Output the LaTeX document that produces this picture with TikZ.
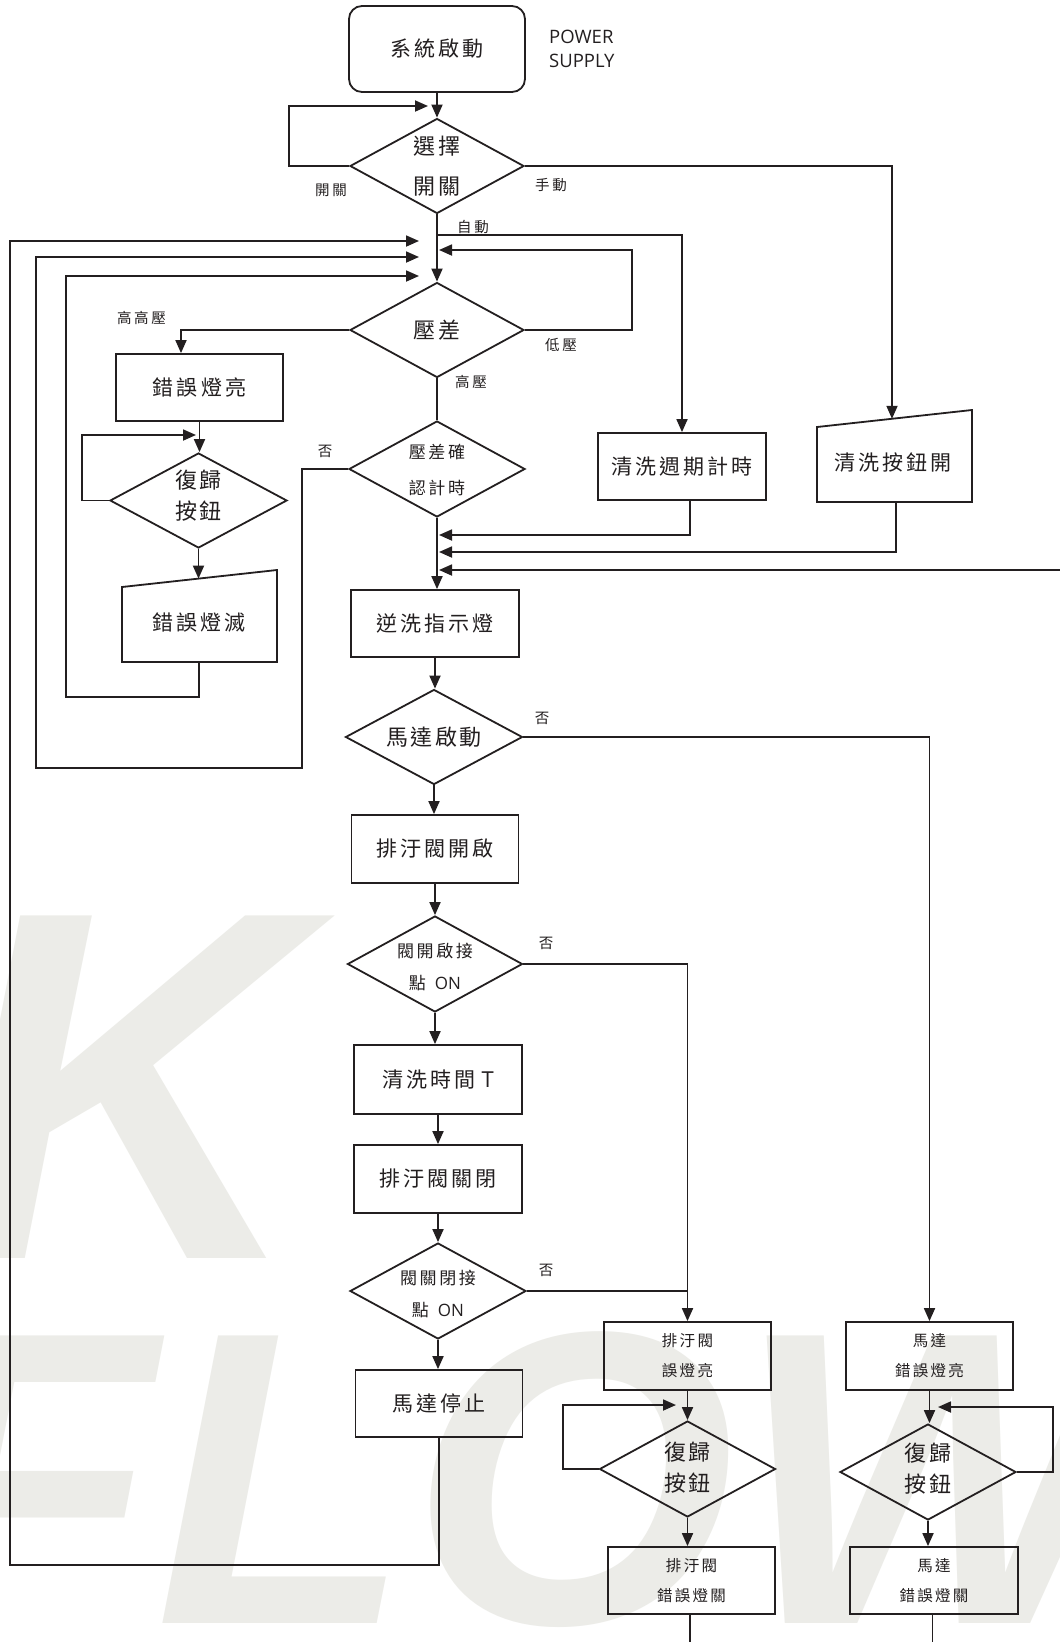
\documentclass[tikz,border=0pt]{standalone}
\usepackage{fontspec}
\usetikzlibrary{shapes.geometric,arrows.meta}
\setmainfont{Open Sans}
\newfontfamily\cjk{Noto Sans CJK TC}
\newfontfamily\cjkA{Noto Sans CJK TC}[LetterSpace=15]
\newfontfamily\cjkB{Noto Sans CJK TC}[LetterSpace=12]
\newfontfamily\cjkC{Noto Sans CJK TC}[LetterSpace=18]
\newfontfamily\wmfont{Liberation Sans}
\definecolor{lc}{RGB}{35,31,32}
\definecolor{wmc}{RGB}{236,236,232}
\begin{document}
\begin{tikzpicture}[x=1pt,y=-1pt,
  ln/.style={draw=lc,line width=1.8pt},
  arr/.style={ln,-{Triangle[length=13pt,width=11pt]}},
  bx/.style={draw=lc,line width=1.8pt,rectangle,inner sep=0pt,minimum width=167pt,minimum height=68pt,align=center},
  dia/.style={draw=lc,line width=1.8pt,diamond,inner sep=0pt,minimum width=176pt,minimum height=96pt},
  tbig/.style={text=lc,inner sep=0pt,font=\cjkA\fontsize{21}{25}\selectfont},
  tdia/.style={text=lc,inner sep=0pt,align=center,font=\cjkB\fontsize{22}{31}\selectfont},
  tmid/.style={text=lc,inner sep=0pt,align=center,font=\cjkA\fontsize{17}{32}\selectfont},
  tsm/.style={text=lc,inner sep=0pt,align=center,font=\cjkA\fontsize{15.5}{30}\selectfont},
  tlab/.style={text=lc,inner sep=0pt,font=\cjkC\fontsize{14.5}{16}\selectfont},
  wm/.style={anchor=base west,inner sep=0pt,text=wmc}
]
\useasboundingbox (0,0) rectangle (1060,1642);
\fill[white] (0,0) rectangle (1060,1642);
\begin{scope}
\clip (0,0) rectangle (1060,1642);
\node[wm,font=\wmfont\bfseries\itshape\fontsize{498}{498}\selectfont] (wmK) at (-55,1258) {K};
\node[wm,font=\wmfont\bfseries\itshape\fontsize{418}{418}\selectfont] (wmF) at (-100,1623) {FLOW};
\end{scope}

% ---- nodes ----
\node[bx,tbig,rounded corners=13pt,minimum width=176pt,minimum height=86pt] (start) at (437,49) {系統啟動};
\node[anchor=west,align=left,text=lc,inner sep=0pt,font=\fontsize{18.5}{24}\selectfont] (ps) at (549,48.5) {POWER\\SUPPLY};

\node[dia,minimum width=174pt,minimum height=95pt] (d1) at (437,166) {};
\node[tdia] (d1t) at (437,166) {選擇\\[9pt]開關};
\node[tlab] (l1) at (331,190) {開關};
\node[tlab] (l2) at (551,185) {手動};
\node[tlab] (l3) at (473,227) {自動};

\node[dia,minimum width=174pt,minimum height=95pt] (d2) at (437,330) {};
\node[tdia] (d2t) at (437,330) {壓差};
\node[tlab] (l4) at (141.5,318) {高高壓};
\node[tlab] (l5) at (561,345) {低壓};
\node[tlab] (l6) at (471,382) {高壓};

\node[bx,tbig,minimum height=67pt] (e1) at (199.5,387.5) {錯誤燈亮};
\node[dia,minimum width=177pt,minimum height=95pt] (d3) at (198.5,500.5) {};
\node[tdia] (d3t) at (198.5,495.5) {復歸\\按鈕};

\node[tlab] (l7) at (325,451) {否};
\node[dia] (d4) at (437,469) {};
\node[tmid] (d4t) at (437,470) {壓差確\\[4pt]認計時};

\node[bx,tbig,minimum width=168pt,minimum height=67pt] (b2) at (682,466.5) {清洗週期計時};
\draw[ln] (817,427) -- (972,410) -- (972,502) -- (817,502) -- cycle;
\node[tbig] (t2t) at (893,463) {清洗按鈕開};

\draw[ln] (122,587) -- (277,570) -- (277,662) -- (122,662) -- cycle;
\node[tbig] (t1t) at (199,622) {錯誤燈滅};

\node[bx,tbig,minimum width=168pt,minimum height=67pt] (b3) at (435,623.5) {逆洗指示燈};
\node[dia,minimum width=177pt,minimum height=95pt] (d5) at (434,737) {};
\node[tdia] (d5t) at (434,737) {馬達啟動};
\node[tlab] (l8) at (542,718) {否};

\node[bx,tbig] (b4) at (435,849) {排汙閥開啟};
\node[dia,minimum width=175pt] (d6) at (435,964) {};
\node[tmid] (d6t) at (435,967) {閥開啟接\\點\hspace{9pt}{\rmfamily ON}};
\node[tlab] (l9) at (546,943) {否};

\node[bx,tbig,minimum width=168pt,minimum height=69pt] (b5) at (438,1079.5) {清洗時間{\rmfamily\fontsize{22}{25}\selectfont\ T}};
\node[bx,tbig,minimum width=168pt] (b6) at (438,1179) {排汙閥關閉};
\node[dia] (d7) at (438,1291) {};
\node[tmid] (d7t) at (438,1294) {閥關閉接\\點\hspace{9pt}{\rmfamily ON}};
\node[tlab] (l10) at (546,1270) {否};
\node[bx,tbig,minimum height=67pt] (b7) at (439,1403.5) {馬達停止};

\node[bx,tsm] (b8) at (687.5,1356) {排汙閥\\誤燈亮};
\node[dia] (d8) at (687.5,1469) {};
\node[tdia] (d8t) at (687.5,1468) {復歸\\按鈕};
\node[bx,tsm,minimum height=67pt] (b9) at (691.5,1580.5) {排汙閥\\錯誤燈關};

\node[bx,tsm] (b10) at (929.5,1356) {馬達\\錯誤燈亮};
\node[dia] (d9) at (928,1472) {};
\node[tdia] (d9t) at (928,1469) {復歸\\按鈕};
\node[bx,tsm,minimum width=168pt,minimum height=67pt] (b11) at (934,1580.5) {馬達\\錯誤燈關};

% ---- named coordinates ----
\coordinate (j0) at (428,106);
\coordinate (t2top) at (892,418.8);
\coordinate (t2bot) at (896,502);
\coordinate (t1top) at (199,578.6);
\coordinate (t1bot) at (199,662);
\coordinate (k1) at (437,235);
\coordinate (j1) at (419,241);
\coordinate (j2) at (419,257);
\coordinate (j3) at (419,276);
\coordinate (j4) at (439,250);
\coordinate (j5) at (196,435);
\coordinate (j6) at (439,535);
\coordinate (j7) at (439,552);
\coordinate (j8) at (439,570);
\coordinate (edgeR) at (1062,570);
\coordinate (c1) at (10,1565);
\coordinate (j9) at (676,1405);
\coordinate (j10) at (938,1407);
\coordinate (bot) at (0,1650);

% ---- connectors ----
\draw[arr] (start.south) -- (d1.north);
\draw[arr] (d1.west) -- (289,166) -- (289,106) -- (j0);
\draw[arr] (d1.east) -| (t2top);
\draw[arr] (d1.south) -- (d2.north);
\draw[arr] (k1) -| (b2.north);
\draw[arr] (b7.south) |- (c1) -- (10,241) -- (j1);
\draw[arr] (d4.west) -- (302,469) -- (302,768) -- (36,768) -- (36,257) -- (j2);
\draw[arr] (t1bot) -- (199,697) -- (66,697) -- (66,276) -- (j3);
\draw[arr] (d2.east) -- (632,330) -- (632,250) -- (j4);
\draw[arr] (d2.west) -| ([xshift=-18.5pt]e1.north);
\draw[arr] (e1.south) -- (e1.south |- d3.north);
\draw[arr] (d3.west) -- (82,500.5) -- (82,435) -- (j5);
\draw[arr] (d3.south) -- (d3.south |- t1top);
\draw[ln] (d2.south) -- (d4.north);
\draw[arr] (d4.south) -- (d4.south |- b3.north);
\draw[arr] ([xshift=8pt]b2.south) |- (j6);
\draw[arr] (t2bot) |- (j7);
\draw[arr] (edgeR) -- (j8);
\draw[arr] (b3.south) -- (b3.south |- d5.north);
\draw[arr] (d5.east) -| (b10.north);
\draw[arr] (d5.south) -- (d5.south |- b4.north);
\draw[arr] (b4.south) -- (b4.south |- d6.north);
\draw[arr] (d6.east) -| (b8.north);
\draw[arr] (d6.south) -- (d6.south |- b5.north);
\draw[arr] (b5.south) -- (b5.south |- b6.north);
\draw[arr] (b6.south) -- (b6.south |- d7.north);
\draw[ln] (d7.east) -- (d7.east -| b8.north);
\draw[arr] (d7.south) -- (d7.south |- b7.north);
\draw[arr] (b8.south) -- (b8.south |- d8.north);
\draw[arr] (d8.west) -- (563,1469) -- (563,1405) -- (j9);
\draw[arr] (d8.south) -- (d8.south |- b9.north);
\draw[ln] ([xshift=-1.5pt]b9.south) -- ([xshift=-1.5pt]b9.south |- bot);
\draw[arr] (b10.south) -- (b10.south |- d9.north);
\draw[arr] (d9.east) -- (1053,1472) -- (1053,1407) -- (j10);
\draw[arr] (d9.south) -- (d9.south |- b11.north);
\draw[ln] ([xshift=-1.5pt]b11.south) -- ([xshift=-1.5pt]b11.south |- bot);
\end{tikzpicture}
\end{document}
